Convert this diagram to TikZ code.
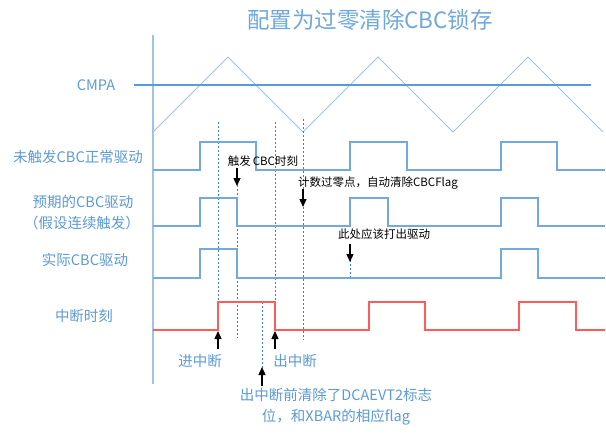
\documentclass[tikz,border=0pt]{standalone}
\usepackage{fontspec}
\setmainfont{Noto Sans CJK SC}
\usetikzlibrary{arrows.meta}
\definecolor{lblue}{HTML}{5B9BD5}
\definecolor{tblue}{HTML}{6FA8DC}
\definecolor{sblue}{HTML}{72AAE0}
\definecolor{triblue}{HTML}{9DC3E6}
\definecolor{axblue}{HTML}{9DC3E6}
\definecolor{dblue}{HTML}{3C7FC8}
\definecolor{sigred}{HTML}{FF5B5B}
\tikzset{
  lbl/.style={text=lblue, font=\fontsize{14.5}{17}\selectfont, inner sep=0pt},
  note/.style={text=black, font=\fontsize{11.5}{14}\selectfont, inner sep=0pt},
  sig/.style={draw=sblue, line width=1.3pt},
  redsig/.style={draw=sigred, line width=1.3pt},
  tri/.style={draw=triblue, line width=1pt},
  dotv/.style={draw=dblue, line width=0.8pt, dash pattern=on 2pt off 2pt},
  arr/.style={draw=black, line width=1.3pt, -{Triangle[length=8pt,width=7pt]}},
}
\begin{document}
\begin{tikzpicture}[x=1pt,y=-1pt]
\useasboundingbox (0,0) rectangle (606,434);
\fill[white] (0,0) rectangle (606,434);

\node[text=tblue, font=\fontsize{22.5}{26}\selectfont, inner sep=0pt] (title) at (370,20) {配置为过零清除CBC锁存};

% axis
\draw[axblue, line width=1.8pt] (153,35) -- (153,384);

% carrier & CMPA
\draw[tri] (153,132) -- (228,57) -- (303,132) -- (378,57) -- (453,132) -- (528,57) -- (603,132);
\draw[lblue, line width=1.1pt] (134,85) -- (591,85);

% labels
\node[lbl] (cmpa) at (96,85) {CMPA};
\node[lbl] (l1) at (78,157) {未触发CBC正常驱动};
\node[lbl] (l2a) at (83,202) {预期的CBC驱动};
\node[lbl] (l2b) at (82,223) {（假设连续触发）};
\node[lbl] (l3) at (85,260) {实际CBC驱动};
\node[lbl] (l4) at (84,316) {中断时刻};

% dotted markers
\draw[dotv] (218,122) -- (218,330);
\draw[dotv] (237,185) -- (237,338);
\draw[dotv] (275,122) -- (275,330);
\draw[dotv] (303,119) -- (303,340);
\draw[dotv] (262,302) -- (262,368);
\draw[dotv] (350,260) -- (350,279);

% signals
\draw[sig] (153,170) -- (200,170) -- (200,142) -- (256,142) -- (256,170) -- (350,170) -- (350,142) -- (407,142) -- (407,170) -- (501,170) -- (501,142) -- (557,142) -- (557,170) -- (605,170);
\draw[sig] (153,226) -- (200,226) -- (200,198) -- (237,198) -- (237,226) -- (350,226) -- (350,198) -- (388,198) -- (388,226) -- (501,226) -- (501,198) -- (538,198) -- (538,226) -- (605,226);
\draw[sig] (153,278) -- (200,278) -- (200,249) -- (237,249) -- (237,278) -- (501,278) -- (501,249) -- (538,249) -- (538,278) -- (605,278);
\draw[redsig] (153,330) -- (218,330) -- (218,302) -- (275,302) -- (275,330) -- (369,330) -- (369,302) -- (425,302) -- (425,330) -- (519,330) -- (519,302) -- (576,302) -- (576,330) -- (605,330);

% annotations
\node[note] (n1) at (263,161) {触发\,CBC时刻};
\coordinate (n1s) at (237,168); \coordinate (n1e) at (237,186);
\draw[arr] (n1s) -- (n1e);

\node[note] (n2) at (378,183) {计数过零点，自动清除CBCFlag};
\coordinate (n2s) at (303,189); \coordinate (n2e) at (303,207);
\draw[arr] (n2s) -- (n2e);

\node[note] (n3) at (384,234) {此处应该打出驱动};
\coordinate (n3s) at (350,244); \coordinate (n3e) at (350,262);
\draw[arr] (n3s) -- (n3e);

\node[lbl] (in) at (200,361) {进中断};
\coordinate (ins) at (218,349); \coordinate (ine) at (218,331);
\draw[arr] (ins) -- (ine);

\node[lbl] (out) at (295,361) {出中断};
\coordinate (outs) at (275,349); \coordinate (oute) at (275,331);
\draw[arr] (outs) -- (oute);

\node[lbl] (clr1) at (336,395) {出中断前清除了DCAEVT2标志};
\node[lbl] (clr2) at (336,417) {位，和XBAR的相应flag};
\coordinate (clrs) at (262,386); \coordinate (clre) at (262,367);
\draw[arr] (clrs) -- (clre);
\end{tikzpicture}
\end{document}
